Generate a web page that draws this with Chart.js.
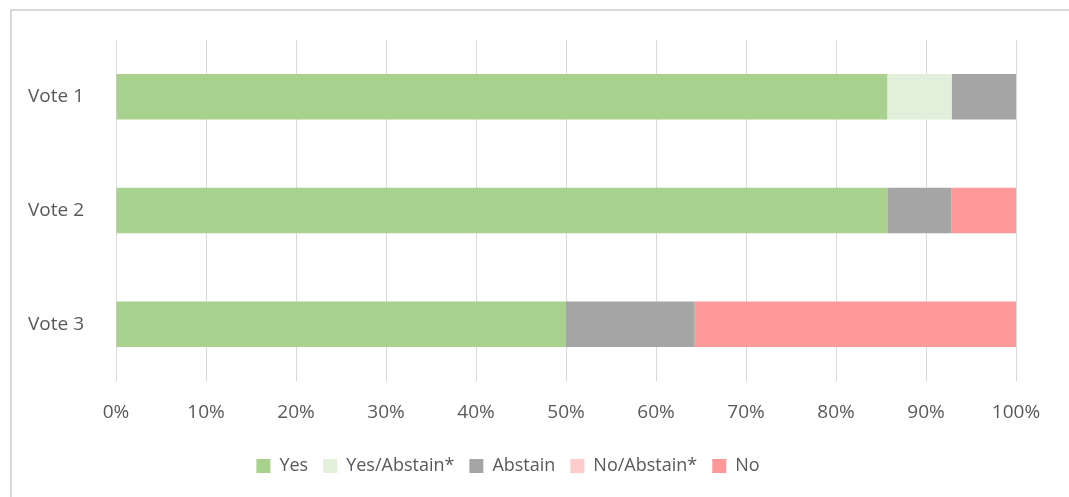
<!DOCTYPE html>
<html>
<head>
<meta charset="utf-8">
<script src="https://cdn.jsdelivr.net/npm/chart.js@4/dist/chart.umd.min.js"></script>
<style>
  body { margin: 0; background: #fff; }
  #frame { position: absolute; left: 10px; top: 9px; width: 1100px; height: 520px; border: 2px solid #d9d9d9; box-sizing: border-box; }
  #voteChart { position: absolute; left: 0; top: 0; }
</style>
</head>
<body>
<div id="frame"></div>
<canvas id="voteChart" width="1069" height="497"></canvas>
<script>
// votes, share of members (%)
const categories = ["Vote 1", "Vote 2", "Vote 3"];
const yes = [85.7, 85.7, 50.0];
const yesAbstain = [7.15, 0, 0];
const abstain = [7.15, 7.15, 14.3];
const noAbstain = [0, 0, 0];
const no = [0, 7.15, 35.7];
const xTicks = [0, 10, 20, 30, 40, 50, 60, 70, 80, 90, 100];

const textGrey = "#595959";
const fontName = "'Open Sans', sans-serif";

function bar(label, data, color) {
    return {
        label: label,
        data: data,
        backgroundColor: color,
        borderWidth: 0,
        categoryPercentage: 0.8,
        barPercentage: 0.5
    };
}

var config = {
    type: "bar",
    data: {
        labels: categories,
        datasets: [
            bar("Yes", yes, "#a9d18e"),
            bar("Yes/Abstain*", yesAbstain, "#e2efda"),
            bar("Abstain", abstain, "#a5a5a5"),
            bar("No/Abstain*", noAbstain, "#ffcccc"),
            bar("No", no, "#ff9999")
        ]
    },
    options: {
        indexAxis: "y",
        responsive: false,
        animation: false,
        layout: { padding: { top: 40, right: 53, bottom: 12, left: 0 } },
        scales: {
            x: {
                stacked: true,
                min: 0,
                max: 100,
                afterBuildTicks: function(scale) {
                    scale.ticks = xTicks.map(v => ({ value: v }));
                },
                afterFit: function(scale) { scale.height = 61; },
                border: { display: false },
                grid: { color: "#d9d9d9", lineWidth: 1, drawTicks: false },
                ticks: {
                    padding: 20,
                    color: textGrey,
                    font: { family: fontName, size: 19 },
                    callback: v => v + "%"
                }
            },
            y: {
                stacked: true,
                afterFit: function(scale) { scale.width = 116; },
                border: { display: false },
                grid: { display: false },
                ticks: {
                    padding: 24,
                    color: textGrey,
                    font: { family: fontName, size: 19 }
                }
            }
        },
        plugins: {
            tooltip: { enabled: false },
            legend: {
                position: "bottom",
                labels: {
                    boxWidth: 14,
                    boxHeight: 14,
                    padding: 15,
                    color: textGrey,
                    font: { family: fontName, size: 18 }
                }
            }
        }
    }
};

new Chart(document.getElementById("voteChart"), config);
</script>
</body>
</html>
